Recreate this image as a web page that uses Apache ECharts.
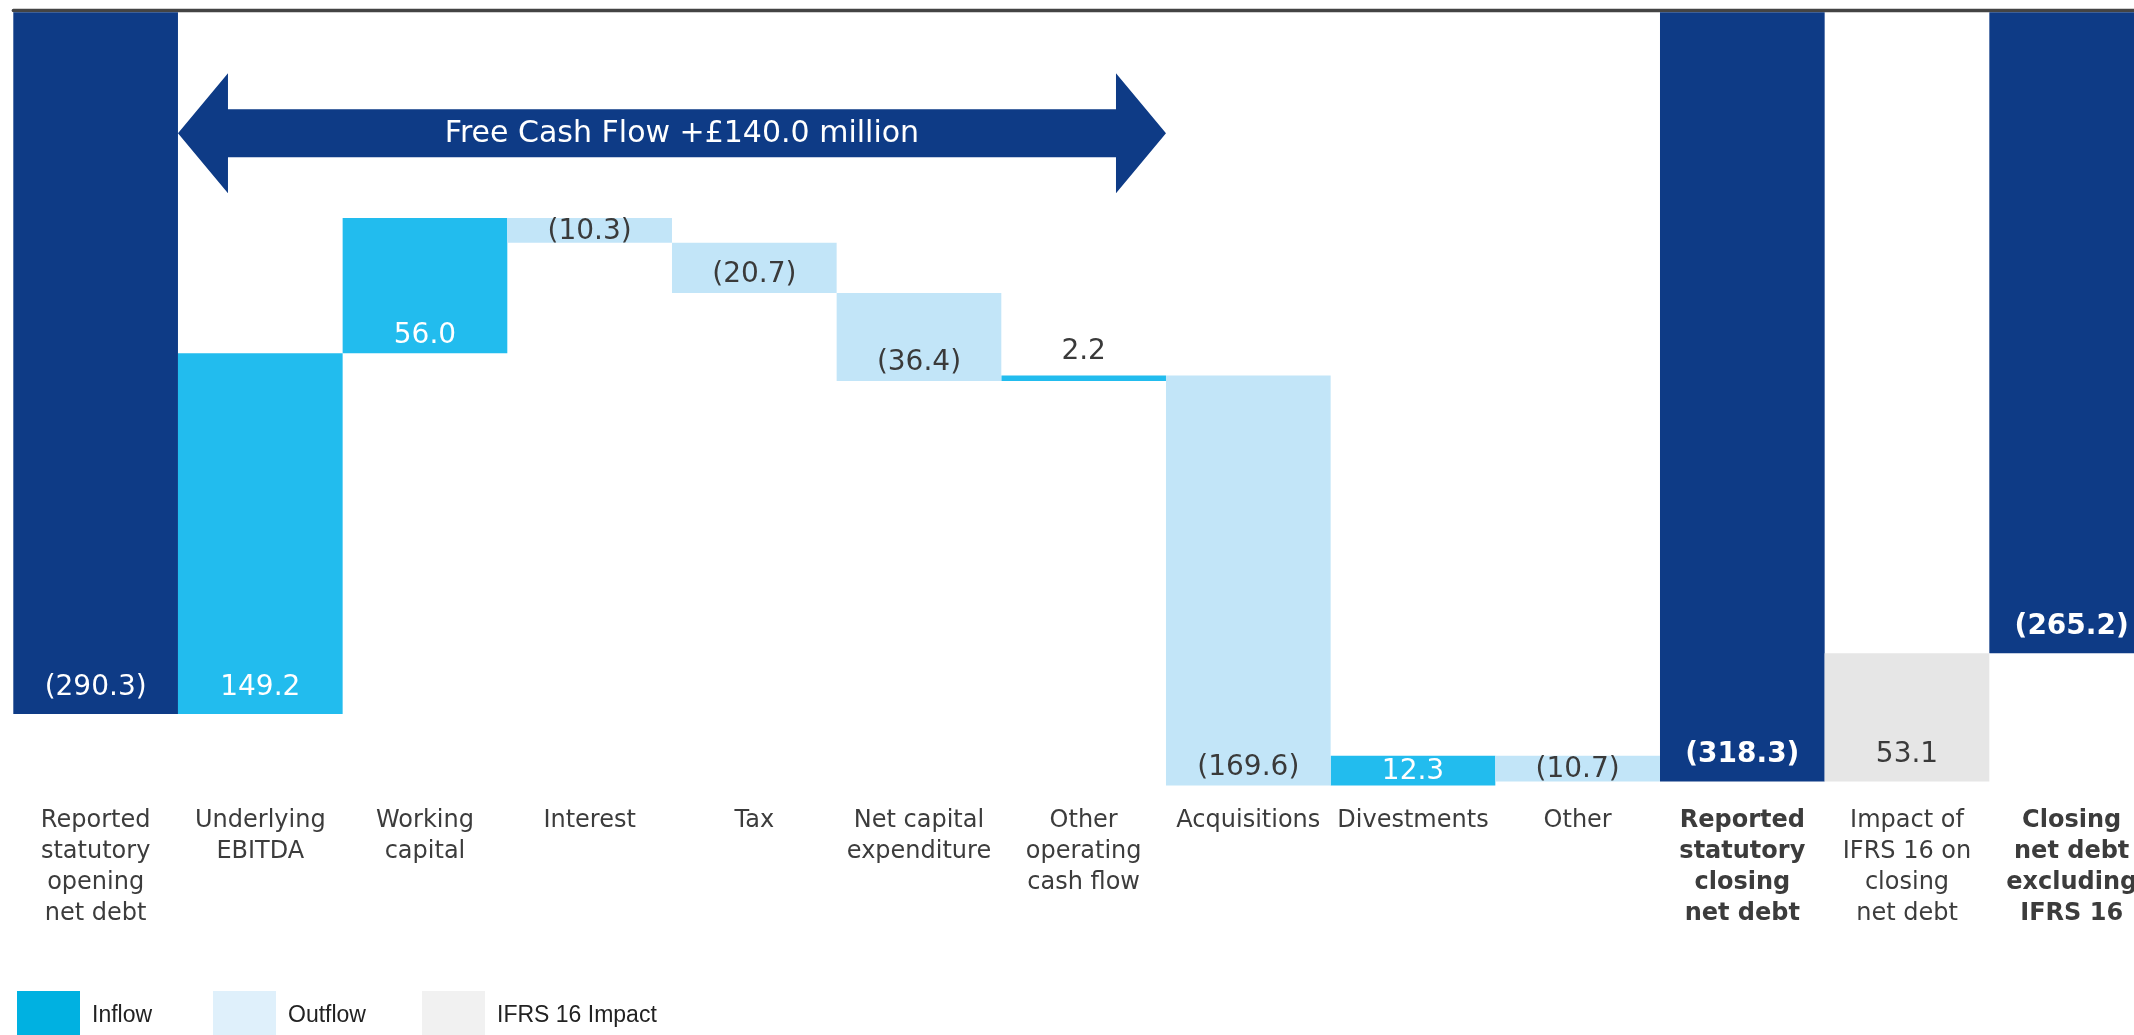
<!DOCTYPE html>
<html>
<head>
<meta charset="utf-8">
<script src="https://cdn.jsdelivr.net/npm/echarts@6/dist/echarts.min.js"></script>
<style>
  html, body { margin: 0; padding: 0; background: #ffffff; overflow: hidden; }
  #chart { width: 2134px; height: 1035px; }
</style>
</head>
<body>
<div id="chart"></div>
<script>
// Net debt bridge (GBP million)
const categories = [
  'Reported\nstatutory\nopening\nnet debt',
  'Underlying\nEBITDA',
  'Working\ncapital',
  'Interest',
  'Tax',
  'Net capital\nexpenditure',
  'Other\noperating\ncash flow',
  'Acquisitions',
  'Divestments',
  'Other',
  'Reported\nstatutory\nclosing\nnet debt',
  'Impact of\nIFRS 16 on\nclosing\nnet debt',
  'Closing\nnet debt\nexcluding\nIFRS 16'
];
const openingNetDebt = -290.3;
const cashFlows = [149.2, 56.0, -10.3, -20.7, -36.4, 2.2, -169.6, 12.3, -10.7];
const closingNetDebt = -318.3;
const ifrs16Impact = 53.1;
const closingNetDebtExIfrs16 = -265.2;
const freeCashFlowItems = 6; // Underlying EBITDA .. Other operating cash flow
const legendNames = ['Inflow', 'Outflow', 'IFRS 16 Impact'];

const COLORS = {
  navy: '#0E3B86',
  inflow: '#22BCEE',
  outflow: '#C2E5F8',
  ifrs: '#E6E6E6',
  darkText: '#3A3A3A'
};
const LEGEND_COLORS = ['#00B1E1', '#DFF0FB', '#F1F1F1'];
const LEGEND_LEFT = [17, 213, 422];
const BOLD_CATEGORIES = [10, 12];

const round1 = v => Math.round(v * 10) / 10;
const fmt = v => (v < 0 ? '(' + Math.abs(v).toFixed(1) + ')' : v.toFixed(1));

// Build the floating-bar stack
const n = categories.length;
const baseData = new Array(n).fill('-');
const totalData = new Array(n).fill('-');
const inflowData = new Array(n).fill('-');
const outflowData = new Array(n).fill('-');
const ifrsData = new Array(n).fill('-');
const labelValue = new Array(n).fill(null);

const VALUE_FONT = { fontFamily: 'DejaVu Sans', fontSize: 28, lineHeight: 28 };

function bottomLabel(distance, color, bold) {
  return Object.assign({ show: true, position: 'insideBottom', distance, color,
    fontWeight: bold ? 'bold' : 'normal' }, VALUE_FONT);
}

totalData[0] = { value: openingNetDebt, label: bottomLabel(12, '#fff', false) };
labelValue[0] = openingNetDebt;

let level = openingNetDebt;
cashFlows.forEach((v, i) => {
  const idx = i + 1;
  const next = round1(level + v);
  const top = Math.max(level, next);
  const bottom = Math.min(level, next);
  baseData[idx] = top;
  const color = v >= 0 ? '#fff' : COLORS.darkText;
  let label;
  const size = Math.abs(v);
  if (size < 5) {
    label = Object.assign({ show: true, position: 'top', distance: 10, color: COLORS.darkText }, VALUE_FONT);
  } else if (size < 15) {
    label = Object.assign({ show: true, position: 'inside', offset: [0, 1], color }, VALUE_FONT);
  } else {
    label = bottomLabel(idx === 1 ? 12 : 4, color, false);
  }
  const item = { value: round1(bottom - top), label };
  if (v >= 0) inflowData[idx] = item; else outflowData[idx] = item;
  labelValue[idx] = v;
  level = next;
});

totalData[10] = { value: closingNetDebt, label: bottomLabel(13, '#fff', true) };
labelValue[10] = closingNetDebt;

baseData[11] = Math.max(closingNetDebt, round1(closingNetDebt + ifrs16Impact));
ifrsData[11] = { value: -ifrs16Impact, label: bottomLabel(13, COLORS.darkText, false) };
labelValue[11] = ifrs16Impact;

totalData[12] = { value: closingNetDebtExIfrs16, label: bottomLabel(13, '#fff', true) };
labelValue[12] = closingNetDebtExIfrs16;

const freeCashFlow = round1(cashFlows.slice(0, freeCashFlowItems).reduce((a, b) => a + b, 0));

const labelFormatter = p => fmt(labelValue[p.dataIndex]);

function barSeries(name, data, color) {
  return {
    name, type: 'bar', stack: 'bridge', data,
    barCategoryGap: '0%',
    itemStyle: { color },
    label: { show: false, formatter: labelFormatter },
    emphasis: { disabled: true }
  };
}

const chart = echarts.init(document.getElementById('chart'), null, { renderer: 'canvas' });

chart.setOption({
  animation: false,
  backgroundColor: '#ffffff',
  grid: {
    left: 13.3, top: 12.3, width: 2140.7, height: 785.5,
    containLabel: false, outerBoundsMode: 'none'
  },
  xAxis: [
    {
      type: 'category',
      position: 'bottom',
      data: categories.map((c, i) => ({
        value: c,
        textStyle: BOLD_CATEGORIES.includes(i) ? { fontWeight: 'bold' } : {}
      })),
      axisLine: { show: false, onZero: false },
      axisTick: { show: false },
      axisLabel: {
        interval: 0, margin: 7, hideOverlap: false,
        fontFamily: 'DejaVu Sans', fontSize: 24, lineHeight: 31, color: '#3C3C3C'
      }
    },
    {
      type: 'category',
      position: 'top',
      offset: 1.7,
      data: categories,
      axisLine: { show: true, onZero: false, lineStyle: { color: '#444444', width: 3.3 } },
      axisTick: { show: false },
      axisLabel: { show: false }
    }
  ],
  yAxis: { type: 'value', min: -325, max: 0, show: false },
  legend: legendNames.map((name, i) => ({
    data: [{ name, itemStyle: { color: LEGEND_COLORS[i] } }],
    left: LEGEND_LEFT[i], top: 991, padding: 0,
    icon: 'rect', itemWidth: 63, itemHeight: 50,
    selectedMode: false,
    textStyle: { fontFamily: 'Liberation Sans, Arial', fontSize: 23, color: '#222', padding: [0, 0, 0, 7] }
  })),
  series: [
    {
      name: 'base', type: 'bar', stack: 'bridge', data: baseData,
      barCategoryGap: '0%', silent: true,
      itemStyle: { color: 'transparent' }
    },
    barSeries('Net debt', totalData, COLORS.navy),
    barSeries('Inflow', inflowData, COLORS.inflow),
    barSeries('Outflow', outflowData, COLORS.outflow),
    barSeries('IFRS 16 Impact', ifrsData, COLORS.ifrs)
  ]
});

// Free cash flow arrow spanning the operating cash flow items
function drawArrow() {
  const c1 = chart.convertToPixel({ xAxisIndex: 0 }, 1);
  const c2 = chart.convertToPixel({ xAxisIndex: 0 }, 2);
  const band = c2 - c1;
  const xL = c1 - band / 2;
  const xR = chart.convertToPixel({ xAxisIndex: 0 }, 1 + freeCashFlowItems) - band / 2;
  const yC = chart.convertToPixel({ yAxisIndex: 0 }, -50);
  const head = 50, headH = 60, shaftH = 24;
  chart.setOption({
    graphic: [
      {
        type: 'polygon', z: 10,
        shape: { points: [
          [xL, yC], [xL + head, yC - headH], [xL + head, yC - shaftH],
          [xR - head, yC - shaftH], [xR - head, yC - headH], [xR, yC],
          [xR - head, yC + headH], [xR - head, yC + shaftH],
          [xL + head, yC + shaftH], [xL + head, yC + headH]
        ] },
        style: { fill: COLORS.navy }
      },
      {
        type: 'text', z: 11,
        x: (xL + xR) / 2 + 10, y: yC + 1,
        style: {
          text: 'Free Cash Flow +£' + freeCashFlow.toFixed(1) + ' million',
          fill: '#ffffff', fontFamily: 'DejaVu Sans', fontSize: 30, fontWeight: 500,
          align: 'center', verticalAlign: 'middle'
        }
      }
    ]
  });
}
drawArrow();
</script>
</body>
</html>
